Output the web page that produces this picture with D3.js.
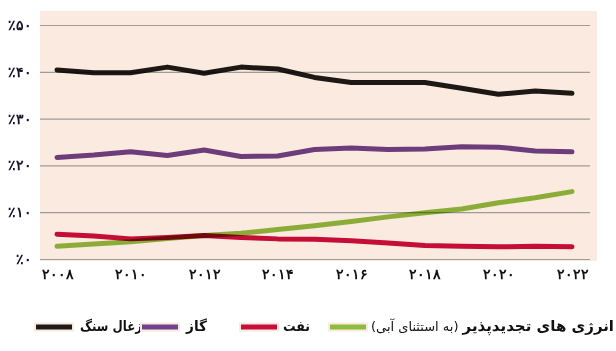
<!DOCTYPE html>
<html>
<head>
<meta charset="utf-8">
<script src="https://cdn.jsdelivr.net/npm/d3@7"></script>
<style>
  body { margin: 0; background: #fff; }
  svg { display: block; font-family: "DejaVu Sans", sans-serif; }
</style>
</head>
<body>
<svg id="drawing_region"></svg>
<script>
const years = [2008, 2009, 2010, 2011, 2012, 2013, 2014, 2015, 2016, 2017, 2018, 2019, 2020, 2021, 2022];
const coal  = [40.4, 39.8, 39.8, 41.0, 39.7, 41.0, 40.6, 38.8, 37.7, 37.7, 37.7, 36.5, 35.2, 35.9, 35.4];
const gas   = [21.7, 22.2, 22.9, 22.1, 23.3, 21.9, 22.0, 23.4, 23.7, 23.4, 23.5, 24.0, 23.9, 23.1, 22.9];
const oil   = [5.3, 4.9, 4.3, 4.6, 5.0, 4.6, 4.3, 4.2, 3.9, 3.4, 2.9, 2.7, 2.6, 2.7, 2.6];
const renew = [2.7, 3.2, 3.7, 4.4, 5.0, 5.5, 6.3, 7.1, 8.0, 9.0, 9.9, 10.7, 12.0, 13.1, 14.4];

const seriesNames = ['زغال سنگ', 'گاز', 'نفت', 'انرژی های تجدیدپذیر'];
const renewNote = '(به استثنای آبی)';

const xTicks = [2008, 2010, 2012, 2014, 2016, 2018, 2020, 2022];
const xTickLabels = ['۲۰۰۸', '۲۰۱۰', '۲۰۱۲', '۲۰۱۴', '۲۰۱۶', '۲۰۱۸', '۲۰۲۰', '۲۰۲۲'];
const yTicks = [0, 10, 20, 30, 40, 50];
const yTickLabels = ['٪۰', '٪۱۰', '٪۲۰', '٪۳۰', '٪۴۰', '٪۵۰'];

const config = {
    parent: '#drawing_region',
    width: 616,
    height: 351,
    bg: { x0: 40, x1: 597, y0: 11, y1: 261 },
    xrange: [57, 572],
    yrange: [259, 25],
    colors: ['#1d1a17', '#6f428d', '#c80f3c', '#8dbd3f'],
    legend: {
        y: 327, swatchX: [36, 142, 241, 330], swatchW: 36,
        textRight: [142, 207, 310, 614], maxW: [62, 21, 27, 245]
    }
};

class LineChart {
    constructor(config) {
        this.config = config;
        this.series = [coal, gas, oil, renew];
        this.init();
    }

    init() {
        const self = this;
        self.svg = d3.select(self.config.parent)
            .attr('width', self.config.width)
            .attr('height', self.config.height);

        self.xscale = d3.scaleLinear().domain([2008, 2022]).range(self.config.xrange);
        self.yscale = d3.scaleLinear().domain([0, 50]).range(self.config.yrange);

        self.line = d3.line()
            .x((d, i) => self.xscale(years[i]))
            .y(d => self.yscale(d));
    }

    render() {
        const self = this;
        const bg = self.config.bg;

        self.svg.append('rect')
            .attr('x', bg.x0).attr('y', bg.y0)
            .attr('width', bg.x1 - bg.x0).attr('height', bg.y1 - bg.y0)
            .attr('fill', '#fbeadf');

        // grid + y labels
        const yaxis = d3.axisLeft(self.yscale)
            .tickValues(yTicks)
            .tickSize(-(590 - bg.x0))
            .tickFormat((d, i) => yTickLabels[i]);
        const yg = self.svg.append('g')
            .attr('transform', `translate(${bg.x0},0)`)
            .call(yaxis);
        yg.select('.domain').remove();
        yg.selectAll('.tick line').attr('stroke', '#9c9c9c').attr('stroke-width', 1.2);
        yg.selectAll('.tick text')
            .attr('x', -8)
            .attr('font-size', 14)
            .attr('font-weight', 'bold')
            .attr('fill', '#14142a');

        // x labels
        const xaxis = d3.axisBottom(self.xscale)
            .tickValues(xTicks)
            .tickSize(0)
            .tickFormat((d, i) => xTickLabels[i]);
        const xg = self.svg.append('g')
            .attr('transform', `translate(0,${bg.y1})`)
            .call(xaxis);
        xg.select('.domain').remove();
        xg.selectAll('.tick text')
            .attr('y', 8)
            .attr('font-size', 14)
            .attr('font-weight', 'bold')
            .attr('fill', '#111');

        // lines (renewables first, oil multiplies over it)
        const order = [3, 2, 1, 0];
        self.svg.append('g').selectAll('path')
            .data(order)
            .join('path')
            .attr('d', k => self.line(self.series[k]))
            .attr('fill', 'none')
            .attr('stroke', k => self.config.colors[k])
            .attr('stroke-width', 5)
            .attr('stroke-linecap', 'round')
            .attr('stroke-linejoin', 'round')
            .style('mix-blend-mode', 'multiply');

        // legend (right to left)
        const lg = self.config.legend;
        const legend = self.svg.append('g');
        lg.textRight.forEach((xr, k) => {
            const t = legend.append('text')
                .attr('direction', 'rtl')
                .attr('x', xr)
                .attr('y', lg.y + 4)
                .attr('text-anchor', 'start')
                .attr('font-size', k === 3 ? 15 : 14)
                .attr('font-weight', 'bold')
                .attr('fill', '#111');
            t.append('tspan').text(seriesNames[k]);
            if (k === 3) {
                t.append('tspan').attr('font-size', 13).attr('font-weight', 'normal').text(' ' + renewNote);
            }
            const w = t.node().getComputedTextLength();
            if (w > lg.maxW[k]) {
                t.attr('textLength', lg.maxW[k]).attr('lengthAdjust', 'spacingAndGlyphs');
            }
            const sx = lg.swatchX[k];
            legend.append('rect')
                .attr('x', sx - 2).attr('y', lg.y - 4.5)
                .attr('width', lg.swatchW + 4).attr('height', 9)
                .attr('fill', '#fbeadf');
            legend.append('rect')
                .attr('x', sx).attr('y', lg.y - 2.5)
                .attr('width', lg.swatchW).attr('height', 5)
                .attr('fill', self.config.colors[k]);
        });
    }
}

const line_chart = new LineChart(config);
line_chart.render();
</script>
</body>
</html>
